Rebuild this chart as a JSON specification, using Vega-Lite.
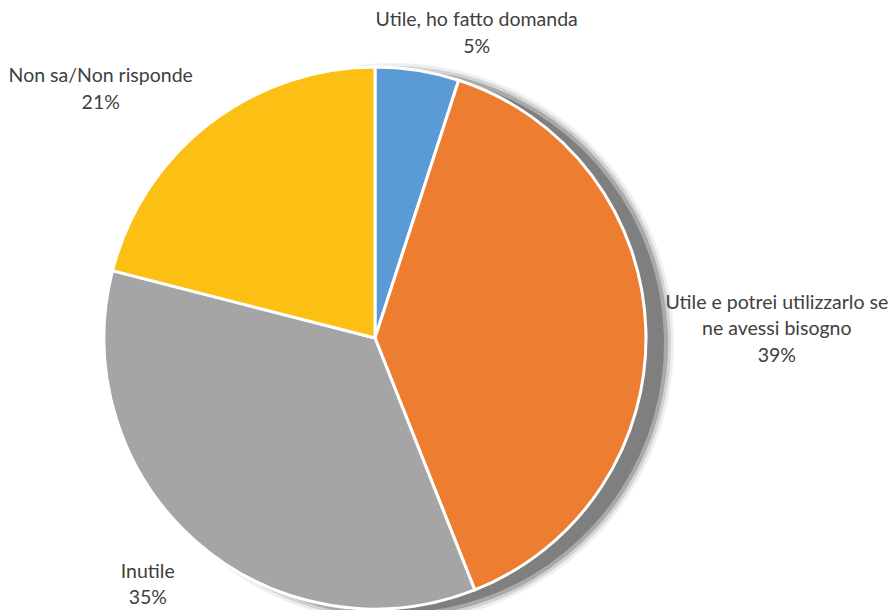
{
  "$schema": "https://vega.github.io/schema/vega-lite/v6.json",
  "autosize": "none",
  "width": 540,
  "height": 540,
  "padding": {"left": 105, "top": 68, "right": 245, "bottom": 2},
  "background": "white",
  "config": {"view": {"stroke": null}, "text": {"lineBreak": "\n"}},
  "data": {"values": [
    {"cat": "Utile, ho fatto domanda", "value": 5, "ord": 1, "label": "Utile, ho fatto domanda\n5%"},
    {"cat": "Utile e potrei utilizzarlo se ne avessi bisogno", "value": 39, "ord": 2, "label": "Utile e potrei utilizzarlo se\nne avessi bisogno\n39%"},
    {"cat": "Inutile", "value": 35, "ord": 3, "label": "Inutile\n35%"},
    {"cat": "Non sa/Non risponde", "value": 21, "ord": 4, "label": "Non sa/Non risponde\n21%"}
  ]},
  "encoding": {
    "theta": {"field": "value", "type": "quantitative", "stack": true, "scale": {"domain": [0, 100]}},
    "order": {"field": "ord", "type": "quantitative"}
  },
  "layer": [
    {"mark": {"type": "arc", "radius": 280, "fill": "#7f7f7f", "opacity": 0.12, "xOffset": 19, "yOffset": 5}},
    {"mark": {"type": "arc", "radius": 277, "fill": "#7f7f7f", "opacity": 0.25, "xOffset": 19, "yOffset": 5}},
    {"mark": {"type": "arc", "radius": 274, "fill": "#7f7f7f", "opacity": 0.5, "xOffset": 19, "yOffset": 5}},
    {"mark": {"type": "arc", "radius": 270, "fill": "#7f7f7f", "opacity": 1, "xOffset": 19, "yOffset": 5}},
    {"mark": {"type": "arc", "radius": 271, "stroke": "white", "strokeWidth": 3},
     "encoding": {"color": {"field": "cat", "type": "nominal", "legend": null,
       "scale": {"domain": ["Utile, ho fatto domanda", "Utile e potrei utilizzarlo se ne avessi bisogno", "Inutile", "Non sa/Non risponde"],
                 "range": ["#5b9bd5", "#ed7d31", "#a5a5a5", "#fcbf14"]}}}},
    {"mark": {"type": "text", "radius": 330, "dx": 50, "dy": 8, "font": "Lato", "fontSize": 19.5, "fill": "#404040", "align": "center", "baseline": "middle", "lineHeight": 26.5},
     "encoding": {"text": {"condition": {"test": "datum.ord === 1", "field": "label"}, "value": ""}}},
    {"mark": {"type": "text", "radius": 330, "dx": 72, "dy": -25, "font": "Lato", "fontSize": 19.5, "fill": "#404040", "align": "center", "baseline": "middle", "lineHeight": 26.5},
     "encoding": {"text": {"condition": {"test": "datum.ord === 2", "field": "label"}, "value": ""}}},
    {"mark": {"type": "text", "radius": 330, "dx": -9, "dy": -14, "font": "Lato", "fontSize": 19.5, "fill": "#404040", "align": "center", "baseline": "middle", "lineHeight": 26.5},
     "encoding": {"text": {"condition": {"test": "datum.ord === 3", "field": "label"}, "value": ""}}},
    {"mark": {"type": "text", "radius": 330, "dx": -72, "dy": -1, "font": "Lato", "fontSize": 19.5, "fill": "#404040", "align": "center", "baseline": "middle", "lineHeight": 26.5},
     "encoding": {"text": {"condition": {"test": "datum.ord === 4", "field": "label"}, "value": ""}}}
  ]
}
